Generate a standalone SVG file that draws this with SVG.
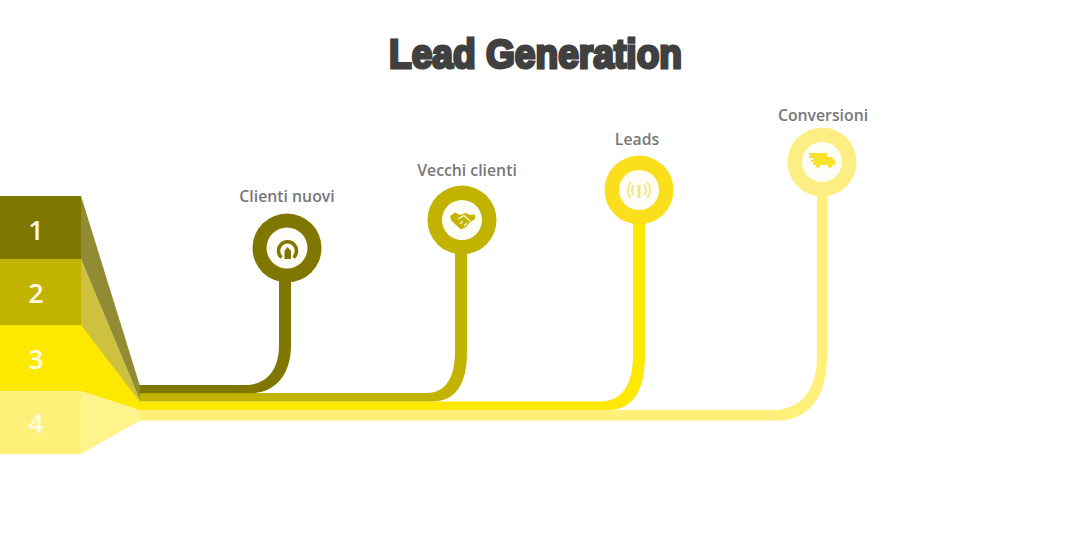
<svg xmlns="http://www.w3.org/2000/svg" width="1069" height="550" viewBox="0 0 1069 550">
<style>
.c1{fill:#7f7700}.c2{fill:#c2b300}.c3{fill:#fde800}.c4{fill:#fff07a}
.hole{fill:#fffef6}
.label{font-family:"Open Sans","Liberation Sans",sans-serif;font-weight:600;font-size:15.800px;fill:#77777b;text-anchor:middle}
.num{font-family:"Open Sans","Liberation Sans",sans-serif;font-weight:600;font-size:27px;fill:#fffbe6;text-anchor:middle}
.title{font-family:"Liberation Sans",Arial,sans-serif;font-weight:700;font-size:41px;fill:#404040;stroke:#404040;stroke-width:3px;stroke-linejoin:miter}
</style>
<rect width="1069" height="550" fill="#ffffff"/>
<text class="title" x="389" y="67.500" textLength="293" lengthAdjust="spacingAndGlyphs">Lead Generation</text>

<g id="connectors">
<path class="c4" d="M136 410H773C800 410 817 392 817 355V190H827V355C827 398 808 420.500 778 420.500H136Z"/>
<path class="c3" d="M136 401.500H600C622 401.500 633 385 633 355V215H645V355C645 392 632 410 608 410H136Z"/>
<path class="c2" d="M136 393H427C445 393 455 378 455 352V245H467V352C467 385 455 401.500 432 401.500H136Z"/>
<path class="c1" d="M136 385H245C265 385 279 372 279 345V270H291V345C291 375 275 393.300 250 393.300H136Z"/>
</g>

<g id="step-4">
<rect class="c4" x="0" y="391" width="81" height="63"/>
<polygon fill="#fff38c" points="81,391 140,410 140,420.500 81,454"/>
<text class="num" x="36" y="433">4</text>
</g>
<g id="step-3">
<rect class="c3" x="0" y="325" width="81" height="66"/>
<polygon class="c3" points="81,325 140,392 140,410 81,391"/>
<text class="num" x="36" y="369">3</text>
</g>
<g id="step-2">
<rect class="c2" x="0" y="259" width="81" height="66"/>
<polygon fill="#cdc13d" points="81,259 140,400 140,402 81,325"/>
<text class="num" x="36" y="303">2</text>
</g>
<g id="step-1">
<rect class="c1" x="0" y="196" width="81" height="63"/>
<polygon fill="#918b33" points="81,196 140,386 140,400 81,259"/>
<text class="num" x="36" y="240">1</text>
</g>

<g id="node-clienti-nuovi">
<text class="label" x="287" y="202">Clienti nuovi</text>
<circle class="c1" cx="287" cy="248" r="34.500"/>
<circle class="hole" cx="287" cy="248" r="20.500"/>
<path d="M281.500 257.500A9 9 0 1 1 293.500 257.500" fill="none" stroke="#7f7700" stroke-width="3.500"/>
<path class="c1" d="M287.500 247L291 251V259H284.500V251Z"/>
</g>

<g id="node-vecchi-clienti">
<text class="label" x="467" y="176">Vecchi clienti</text>
<circle class="c2" cx="462" cy="220" r="34.500"/>
<circle class="hole" cx="462" cy="220" r="20"/>
<path class="c2" d="M450 216L455 212.500L460 215L466 213L470 215L475 214.500L475 219L470 222L466 227L461 229.500L456 225L451 220Z"/>
<path d="M458 219L464 215.500L470 221M460 224L463 221M464 226L467 223" fill="none" stroke="#fffef6" stroke-width="1.100"/>
</g>

<g id="node-leads">
<text class="label" x="637" y="145">Leads</text>
<circle fill="#fbdf1c" cx="639" cy="190" r="34.500"/>
<circle class="hole" cx="639" cy="190" r="20"/>
<g fill="none" stroke="#f7e48a" stroke-width="1.800">
<path d="M634 185A7 7 0 0 0 634 195"/>
<path d="M644 185A7 7 0 0 1 644 195"/>
<path d="M631 182A12 12 0 0 0 631 198"/>
<path d="M647 182A12 12 0 0 1 647 198"/>
</g>
<path d="M639 185V198" stroke="#f7e48a" stroke-width="3" fill="none"/>
</g>

<g id="node-conversioni">
<text class="label" x="823" y="121">Conversioni</text>
<circle fill="#fcee82" cx="822" cy="162" r="34.500"/>
<circle class="hole" cx="822" cy="162" r="20"/>
<path fill="#f8e22c" d="M809 153H827V157H832L835 161V165H813V162H811V160H813V158H809V156H811V155H809Z"/>
<circle fill="#f8e22c" cx="818" cy="165.500" r="2.300"/>
<circle fill="#f8e22c" cx="830" cy="165.500" r="2.300"/>
</g>
</svg>
